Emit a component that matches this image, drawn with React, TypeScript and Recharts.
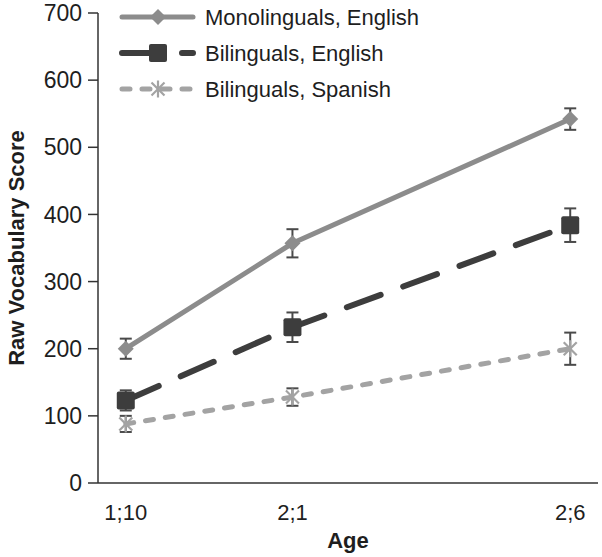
import React from 'react';
import { LineChart, Line, XAxis, YAxis, ErrorBar, Legend } from 'recharts';

// ---- data ----
const ageMonths = [22, 25, 30];
const ageLabels = ['1;10', '2;1', '2;6'];
const monoEnglish = [200, 357, 542];
const monoEnglishErr = [15, 21, 16];
const biEnglish = [123, 232, 384];
const biEnglishErr = [15, 22, 25];
const biSpanish = [88, 128, 200];
const biSpanishErr = [12, 13, 24];
const seriesNames = ['Monolinguals, English', 'Bilinguals, English', 'Bilinguals, Spanish'];
const yTicks = [0, 100, 200, 300, 400, 500, 600, 700];
const monthEdges = [21.5, 22.5, 23.5, 24.5, 25.5, 26.5, 27.5, 28.5, 29.5, 30.5];

const data = ageMonths.map((m, i) => ({
  age: m,
  mono: monoEnglish[i],
  monoErr: monoEnglishErr[i],
  biEn: biEnglish[i],
  biEnErr: biEnglishErr[i],
  biEs: biSpanish[i],
  biEsErr: biSpanishErr[i],
}));

const FONT = '"Liberation Sans", Arial, Helvetica, sans-serif';
const AXIS = '#333333';
const TEXT = '#1e1e1e';
const MONO_C = '#8c8c8c';
const BIEN_C = '#3d3d3d';
const BIES_C = '#a3a3a3';
const ERR_C = '#4a4a4a';
const X_DOMAIN: [number, number] = [monthEdges[0], monthEdges[monthEdges.length - 1]];

const Diamond = (p: any) => {
  const { cx, cy } = p;
  if (cx == null || cy == null) return null;
  const r = 8;
  return <path d={`M${cx},${cy - r} L${cx + r},${cy} L${cx},${cy + r} L${cx - r},${cy} Z`} fill={MONO_C} />;
};
const Square = (p: any) => {
  const { cx, cy } = p;
  if (cx == null || cy == null) return null;
  const s = 9;
  return <rect x={cx - s} y={cy - s} width={2 * s} height={2 * s} rx={2} fill={BIEN_C} />;
};
const Star = (p: any) => {
  const { cx, cy } = p;
  if (cx == null || cy == null) return null;
  const d = 6.5;
  const v = 8.5;
  return (
    <g stroke={BIES_C} strokeWidth={2.2}>
      <line x1={cx - d} y1={cy - d} x2={cx + d} y2={cy + d} />
      <line x1={cx - d} y1={cy + d} x2={cx + d} y2={cy - d} />
      <line x1={cx} y1={cy - v} x2={cx} y2={cy + v} />
    </g>
  );
};

const YTitle = (props: any) => {
  const vb = props.viewBox || { x: 0, y: 13, width: 98, height: 470 };
  const cx = vb.x + 16;
  const cy = vb.y + vb.height / 2;
  return (
    <text x={cx} y={cy} transform={`rotate(-90 ${cx} ${cy})`} textAnchor="middle" dominantBaseline="central"
      fontSize={22} fontWeight="bold" fontFamily={FONT} fill={TEXT}>
      Raw Vocabulary Score
    </text>
  );
};

const XTitle = (props: any) => {
  const vb = props.viewBox || { x: 98, y: 492, width: 500, height: 65 };
  const cx = vb.x + vb.width / 2;
  return (
    <text x={cx} y={vb.y + vb.height - 9} textAnchor="middle" fontSize={22} fontWeight="bold" fontFamily={FONT} fill={TEXT}>
      Age
    </text>
  );
};

const LegendContent = () => {
  const rows = [
    { name: seriesNames[0], color: MONO_C, w: 5, dash: undefined, Marker: Diamond },
    { name: seriesNames[1], color: BIEN_C, w: 6, dash: '36 24', Marker: Square },
    { name: seriesNames[2], color: BIES_C, w: 5, dash: '8 12', Marker: Star },
  ];
  return (
    <svg width={330} height={110} style={{ display: 'block' }}>
      {rows.map((r, i) => {
        const y = 17 + i * 36;
        return (
          <g key={r.name}>
            <line x1={9} x2={80} y1={y} y2={y} stroke={r.color} strokeWidth={r.w} strokeDasharray={r.dash} strokeLinecap="round" />
            <r.Marker cx={45} cy={y} />
            <text x={92} y={y} dominantBaseline="central" fontSize={22} fontFamily={FONT} fill={TEXT}>{r.name}</text>
          </g>
        );
      })}
    </svg>
  );
};

export default function App() {
  return (
    <div style={{ position: 'absolute', left: 0, top: 0, width: 602, height: 557, background: '#fff' }}>
      <LineChart width={602} height={557} data={data} margin={{ top: 13, right: 4, bottom: 0, left: 0 }}>
        <XAxis
          xAxisId="aEdges"
          type="number"
          domain={X_DOMAIN}
          allowDataOverflow
          ticks={monthEdges}
          interval={0}
          tickSize={9}
          tickFormatter={() => ''}
          height={9}
          axisLine={{ stroke: AXIS, strokeWidth: 1.5 }}
          tickLine={{ stroke: AXIS, strokeWidth: 1.5 }}
        />
        <XAxis
          xAxisId="bAge"
          type="number"
          dataKey="age"
          domain={X_DOMAIN}
          allowDataOverflow
          ticks={ageMonths}
          interval={0}
          tickFormatter={(v: number) => ageLabels[ageMonths.indexOf(v)] ?? ''}
          axisLine={false}
          tickLine={false}
          tickSize={0}
          tickMargin={12}
          height={65}
          tick={{ fontSize: 22, fontFamily: FONT, fill: TEXT }}
          label={<XTitle />}
        />
        <YAxis
          type="number"
          domain={[0, 700]}
          ticks={yTicks}
          interval={0}
          width={98}
          tickSize={10}
          tickMargin={6}
          axisLine={{ stroke: AXIS, strokeWidth: 1.5 }}
          tickLine={{ stroke: AXIS, strokeWidth: 1.5 }}
          tick={{ fontSize: 23, fontFamily: FONT, fill: TEXT }}
          label={<YTitle />}
        />
        <Legend layout="horizontal" verticalAlign="middle" align="center" content={<LegendContent />}
          wrapperStyle={{ left: 113, top: 0, width: 330, height: 110 }} />
        <Line xAxisId="bAge" dataKey="biEs" stroke={BIES_C} strokeWidth={5} strokeDasharray="8 12" strokeLinecap="round"
          dot={<Star />} activeDot={false} isAnimationActive={false}>
          <ErrorBar dataKey="biEsErr" width={6} stroke={ERR_C} strokeWidth={2} direction="y" />
        </Line>
        <Line xAxisId="bAge" dataKey="biEn" stroke={BIEN_C} strokeWidth={6} strokeDasharray="36 24" strokeLinecap="round"
          dot={<Square />} activeDot={false} isAnimationActive={false}>
          <ErrorBar dataKey="biEnErr" width={6} stroke={ERR_C} strokeWidth={2} direction="y" />
        </Line>
        <Line xAxisId="bAge" dataKey="mono" stroke={MONO_C} strokeWidth={5} strokeLinecap="round"
          dot={<Diamond />} activeDot={false} isAnimationActive={false}>
          <ErrorBar dataKey="monoErr" width={6} stroke={ERR_C} strokeWidth={2} direction="y" />
        </Line>
      </LineChart>
    </div>
  );
}
